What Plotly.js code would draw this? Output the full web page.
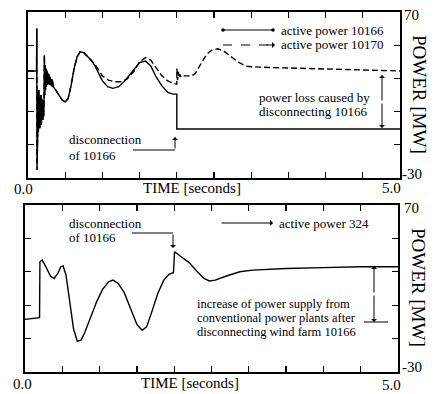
<!DOCTYPE html>
<html>
<head>
<meta charset="utf-8">
<script src="https://cdn.plot.ly/plotly-3.0.1.min.js"></script>
<style>html,body{margin:0;padding:0;background:#fff;}#chart{width:434px;height:394px;}</style>
</head>
<body>
<div id="chart"></div>
<script>
// ---- data (time in seconds, power in MW) ----
// common start of active power 10166 and 10170
var tStart = [
  0, 0.115, 0.118, 0.121, 0.125, 0.13, 0.135, 0.14, 0.145, 0.15,
  0.155, 0.16, 0.165, 0.17, 0.175, 0.18, 0.185, 0.19, 0.195, 0.2,
  0.205, 0.21, 0.215, 0.22, 0.225, 0.23, 0.235, 0.24, 0.245, 0.25,
  0.255, 0.26, 0.265, 0.27, 0.275, 0.28, 0.285, 0.29, 0.295, 0.3,
  0.305, 0.31, 0.315, 0.32, 0.325, 0.33, 0.34, 0.36, 0.38, 0.4,
  0.43, 0.46, 0.5, 0.54, 0.58, 0.62, 0.66, 0.7, 0.75, 0.8, 0.85
];
var pStart = [
  34.5, 34.5, 60, -25, 20, -4, 22, -2, 23, 2,
  21, 0, 19, 4, 20, 2, 18, 5, 17, 5,
  15, 7, 13, 44, 20, 38, 23, 36, 25, 35,
  26, 34, 26.5, 33, 26.5, 32.5, 26.5, 32, 26, 31,
  26, 30, 25.5, 29.5, 25, 28.5, 25, 24, 22.5, 21,
  19, 17, 15.8, 18, 26, 36, 43, 46, 45.5, 43, 41
];
// active power 10166 (solid) after t = 0.85
var t10166 = [0.9, 0.95, 1.0, 1.07, 1.14, 1.22, 1.3, 1.4, 1.5, 1.58, 1.65, 1.72, 1.8, 1.88, 1.95, 2.0, 2.0, 5.0];
var p10166 = [37.5, 33, 28.5, 25, 24, 25, 28.5, 34, 39.5, 40.5, 37.5, 31, 25.5, 21.5, 20.5, 20.5, -0.5, -0.5];
// active power 10170 (dashed) after t = 0.85
var t10170 = [0.9, 0.95, 1.0, 1.08, 1.16, 1.25, 1.33, 1.42, 1.5, 1.58, 1.65, 1.72, 1.8, 1.88, 1.95, 2.0,
  2.001, 2.01, 2.02, 2.03, 2.04, 2.05, 2.07, 2.1, 2.2, 2.25, 2.3, 2.35, 2.4, 2.47, 2.55, 2.63, 2.72, 2.82, 2.92, 3.0,
  3.3, 3.7, 4.2, 4.6, 5.0];
var p10170 = [38.5, 35, 31.5, 29, 28, 28, 29.5, 34, 40, 42.5, 41, 36.5, 31.5, 28.5, 27, 26.5,
  36, 29, 34, 30.5, 32.5, 31, 32, 31.5, 31.5, 33, 37, 41, 44.5, 47, 47.8, 46.5, 43.5, 40, 37.5, 37,
  36.5, 36, 35.2, 34.8, 34.5];
// active power 324
var t324 = [0, 0.195, 0.2, 0.23, 0.28, 0.34, 0.39, 0.44, 0.48, 0.51,
  0.55, 0.6, 0.65, 0.7, 0.75, 0.8, 0.88, 0.96, 1.04, 1.12,
  1.18, 1.25, 1.33, 1.42, 1.5, 1.57, 1.63, 1.7, 1.78, 1.86,
  1.93, 1.99, 2.005, 2.08, 2.2, 2.3, 2.4, 2.47, 2.55, 2.7,
  2.88, 3.05, 3.5, 4.0, 4.5, 5.0];
var p324 = [1.5, 2.5, 36, 37, 33, 27.5, 26, 29, 33, 33.5,
  28, 12, -4, -11.5, -11, -6.5, 3, 12, 19.5, 24,
  25, 23, 17.5, 8, -1.5, -5, -3, 6, 17, 25,
  28.5, 29.5, 42, 39.5, 35.5, 30.5, 26, 24.5, 25, 27.5,
  30, 31, 32, 32.5, 33, 33];

var xRange = [0, 5];
var yRange = [-30, 70];
var xLabels = ['0.0', '5.0'];
var yLabels = ['70', '-30'];

// ---- layout helpers ----
var W = 434, H = 394;
function px(x) { return x / W; }
function py(y) { return 1 - y / H; }
var FONT = 'Liberation Serif, Times New Roman, serif';

var traces = [
  {x: tStart.concat(t10166), y: pStart.concat(p10166), xaxis: 'x', yaxis: 'y', mode: 'lines',
   line: {color: '#000', width: 1.4}, hoverinfo: 'skip'},
  {x: tStart.concat(t10170), y: pStart.concat(p10170), xaxis: 'x', yaxis: 'y', mode: 'lines',
   line: {color: '#000', width: 1.4, dash: '6px,3px'}, hoverinfo: 'skip'},
  {x: t324, y: p324, xaxis: 'x2', yaxis: 'y2', mode: 'lines',
   line: {color: '#000', width: 1.4}, hoverinfo: 'skip'}
];

function xax(dom, anchor) {
  return {domain: dom, range: xRange, anchor: anchor, showgrid: false, zeroline: false,
    showline: true, linecolor: '#000', linewidth: 2, mirror: 'ticks', ticks: 'inside',
    ticklen: 6, tickwidth: 1.3, tickcolor: '#000', tick0: 0, dtick: 0.5, showticklabels: false};
}
function yax(dom, anchor) {
  return {domain: dom, range: yRange, anchor: anchor, showgrid: false, zeroline: false,
    showline: true, linecolor: '#000', linewidth: 2, mirror: 'ticks', ticks: 'inside',
    ticklen: 6, tickwidth: 1.3, tickcolor: '#000', tick0: -30, dtick: 20, showticklabels: false};
}

function txt(s, x, y, size, anchor, extra) {
  var a = {text: s, xref: 'paper', yref: 'paper', x: px(x), y: py(y), showarrow: false,
    xanchor: anchor || 'center', yanchor: 'middle', font: {family: FONT, size: size || 13, color: '#000'}};
  if (extra) for (var k in extra) a[k] = extra[k];
  return a;
}
function arrow(hx, hy, tx, ty) {
  return {text: '', xref: 'paper', yref: 'paper', x: px(hx), y: py(hy), ax: tx - hx, ay: ty - hy,
    showarrow: true, arrowhead: 1, arrowsize: 1, arrowwidth: 1, arrowcolor: '#000'};
}
function seg(x0, y0, x1, y1, dash) {
  return {type: 'line', xref: 'paper', yref: 'paper', x0: px(x0), y0: py(y0), x1: px(x1), y1: py(y1),
    line: {color: '#000', width: 1, dash: dash || 'solid'}};
}
function dot(x, y) {
  return {type: 'circle', xref: 'paper', yref: 'paper', x0: px(x - 1.8), x1: px(x + 1.8),
    y0: py(y + 1.8), y1: py(y - 1.8), fillcolor: '#000', line: {color: '#000', width: 0}};
}

var annotations = [
  // top panel axis texts
  txt(xLabels[0], 23, 189, 15), txt('TIME [seconds]', 192, 188, 15), txt(xLabels[1], 391, 188, 15),
  txt(yLabels[0], 411, 15, 15), txt(yLabels[1], 412, 174, 15),
  txt('POWER [MW]', 419, 94, 19, 'center', {textangle: 90}),
  // top legend
  txt('active power 10166', 279, 30, 13, 'left'),
  txt('active power 10170', 279, 45, 13, 'left'),
  arrow(275, 45, 265, 45),
  // top notes
  txt('power loss caused by', 257, 97, 13, 'left'),
  txt('disconnecting 10166', 257, 111, 13, 'left'),
  arrow(382, 75, 382, 102), arrow(382, 128, 382, 102),
  txt('disconnection', 67, 139, 13, 'left'),
  txt('of 10166', 67, 155, 13, 'left'),
  arrow(175, 137, 175, 150),
  // bottom panel axis texts
  txt(xLabels[0], 22, 384, 15), txt('TIME [seconds]', 190, 383, 15), txt(xLabels[1], 391, 385, 15),
  txt(yLabels[0], 411, 208, 15), txt(yLabels[1], 412, 367, 15),
  txt('POWER [MW]', 419, 287, 19, 'center', {textangle: 90}),
  // bottom notes
  txt('disconnection', 67, 223, 13, 'left'),
  txt('of 10166', 67, 237, 13, 'left'),
  arrow(173, 248, 173, 233),
  arrow(273, 223, 220, 223),
  txt('active power 324', 277, 223, 13, 'left'),
  txt('increase of power supply from', 195, 304, 12.5, 'left'),
  txt('conventional power plants after', 195, 318, 12.5, 'left'),
  txt('disconnecting wind farm 10166', 195, 332, 12.5, 'left'),
  arrow(374, 266, 374, 294), arrow(374, 322, 374, 294)
];

var shapes = [
  seg(223, 30, 273, 30), dot(223, 30), dot(273, 30),
  seg(223, 45, 270, 45, 'dash'),
  seg(133, 150, 175, 150),
  seg(132, 233, 173, 233),
  seg(364, 322, 388, 322)
];

var layout = {
  width: W, height: H, margin: {l: 0, r: 0, t: 0, b: 0},
  paper_bgcolor: '#fff', plot_bgcolor: '#fff', showlegend: false,
  xaxis: xax([px(28), px(400)], 'y'),
  yaxis: yax([py(178), py(12)], 'x'),
  xaxis2: xax([px(25), px(398)], 'y2'),
  yaxis2: yax([py(372), py(205)], 'x2'),
  annotations: annotations, shapes: shapes
};

Plotly.newPlot('chart', traces, layout, {staticPlot: true, displayModeBar: false});
</script>
</body>
</html>
